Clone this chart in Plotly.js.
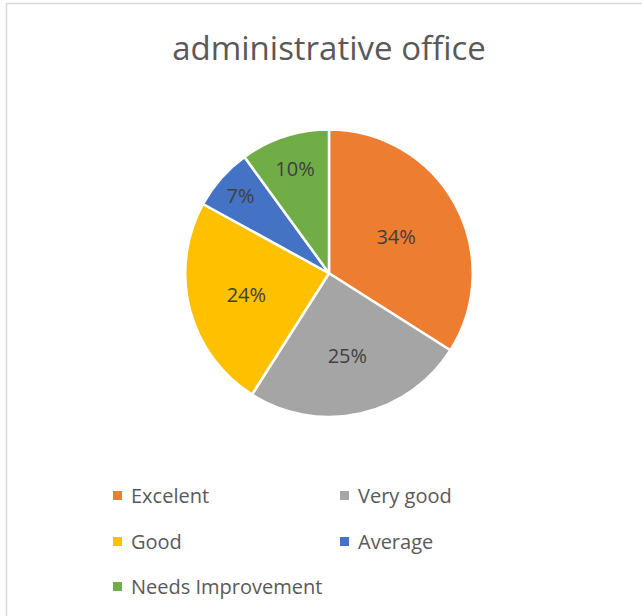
<!DOCTYPE html>
<html>
<head>
<meta charset="utf-8">
<script src="https://cdn.plot.ly/plotly-3.0.1.min.js"></script>
<style>html,body{margin:0;padding:0;background:#fff;}#chart{width:642px;height:616px;}</style>
</head>
<body>
<div id="chart"></div>
<script>
var labels = ["Excelent", "Very good", "Good", "Average", "Needs Improvement"];
var values = [34, 25, 24, 7, 10];
var colors = ["#ED7D31", "#A5A5A5", "#FFC000", "#4472C4", "#70AD47"];
var chartTitle = "administrative office";

var W = 642, H = 616;
function px(x){ return x / W; }
function py(y){ return 1 - y / H; }

var trace = {
  type: "pie",
  labels: labels,
  values: values,
  sort: false,
  direction: "clockwise",
  rotation: 0,
  marker: { colors: colors, line: { color: "#ffffff", width: 2.5 } },
  textinfo: "percent",
  textposition: "inside",
  insidetextorientation: "horizontal",
  textfont: { family: "Open Sans", size: 20, color: "#404040" },
  hoverinfo: "label+percent",
  domain: { x: [px(185), px(473)], y: [py(417), py(129.5)] },
  showlegend: false
};

// legend entries laid out in two columns
var legendCols = [113, 340];
var legendRows = [495.5, 541.5, 586.5];
var shapes = [{
  type: "rect", xref: "paper", yref: "paper",
  x0: px(6.5), x1: px(660), y0: py(3.5), y1: py(640),
  line: { color: "#d9d9d9", width: 1.5 }, fillcolor: "rgba(0,0,0,0)", layer: "below"
}];
var annotations = [];
labels.forEach(function(lab, i){
  var cx = legendCols[i % 2], cy = legendRows[Math.floor(i / 2)];
  shapes.push({
    type: "rect", xref: "paper", yref: "paper",
    x0: px(cx), x1: px(cx + 9), y0: py(cy + 4.5), y1: py(cy - 4.5),
    fillcolor: colors[i], line: { width: 0 }
  });
  annotations.push({
    xref: "paper", yref: "paper", x: px(cx + 16), y: py(cy - 0.5),
    xanchor: "left", yanchor: "middle", showarrow: false,
    text: lab, font: { family: "Open Sans", size: 20, color: "#595959" }
  });
});

var layout = {
  width: W, height: H,
  margin: { l: 0, r: 0, t: 0, b: 0 },
  paper_bgcolor: "#ffffff",
  title: {
    text: chartTitle,
    x: px(329), xanchor: "center", xref: "paper",
    y: py(48), yanchor: "middle", yref: "paper",
    font: { family: "Open Sans", size: 33, color: "#595959" }
  },
  shapes: shapes,
  annotations: annotations
};

Plotly.newPlot("chart", [trace], layout, { displayModeBar: false, staticPlot: true });
</script>
</body>
</html>
